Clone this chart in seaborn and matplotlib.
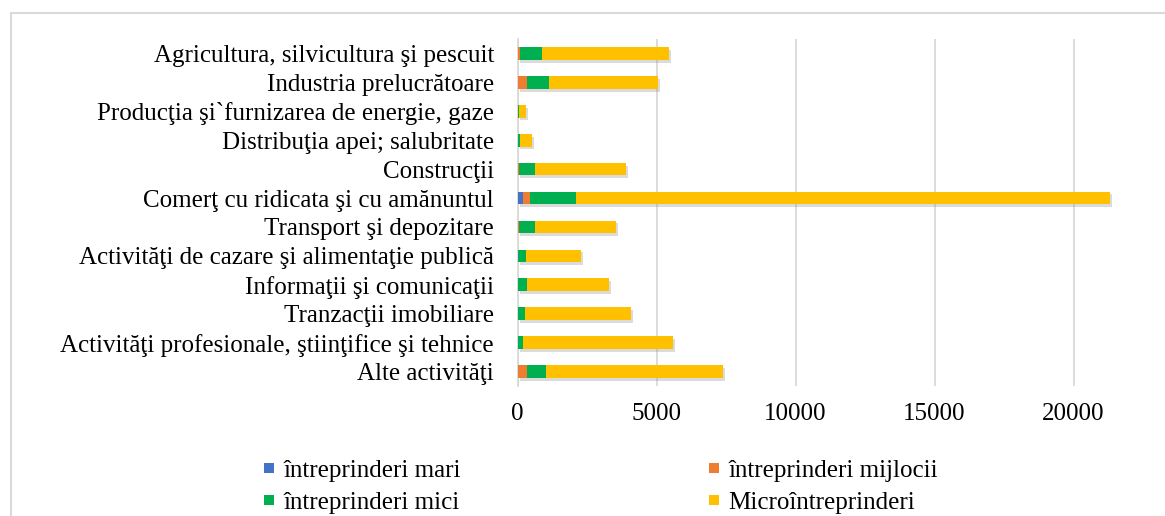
import numpy as np
import pandas as pd
import matplotlib
matplotlib.use("Agg")
import matplotlib.pyplot as plt
import matplotlib.patheffects as pe
from matplotlib.patches import Rectangle
from matplotlib.lines import Line2D
import seaborn as sns

categories = [
    "Agricultura, silvicultura şi pescuit",
    "Industria prelucrătoare",
    "Producţia şi`furnizarea de energie, gaze",
    "Distribuţia apei; salubritate",
    "Construcţii",
    "Comerţ cu ridicata şi cu amănuntul",
    "Transport şi depozitare",
    "Activităţi de cazare şi alimentaţie publică",
    "Informaţii şi comunicaţii",
    "Tranzacţii imobiliare",
    "Activităţi profesionale, ştiinţifice şi tehnice",
    "Alte activităţi",
]
series_names = ["întreprinderi mari", "întreprinderi mijlocii",
                "întreprinderi mici", "Microîntreprinderi"]
mari = [5, 30, 5, 5, 10, 200, 10, 5, 5, 0, 0, 10]
mijlocii = [70, 310, 15, 15, 60, 250, 40, 20, 25, 10, 10, 330]
mici = [805, 780, 40, 70, 550, 1650, 570, 280, 310, 260, 190, 685]
micro = [4580, 3945, 245, 420, 3280, 19200, 2935, 1990, 2960, 3810, 5405, 6355]
colors = ["#4472C4", "#ED7D31", "#00B050", "#FFC000"]

plt.rcParams['font.family'] = ['Liberation Serif', 'DejaVu Serif']
FS = 18

df = pd.DataFrame({"cat": categories, "mari": mari, "mijlocii": mijlocii,
                   "mici": mici, "micro": micro})
df["c1"] = df["mari"]
df["c2"] = df["c1"] + df["mijlocii"]
df["c3"] = df["c2"] + df["mici"]
df["c4"] = df["c3"] + df["micro"]

W, H = 1165, 516
fig = plt.figure(figsize=(W / 100, H / 100), dpi=100)
ax = fig.add_axes([517.5 / W, 1 - 386 / H, (W - 517.5) / W, (386 - 39) / H])

layers = [("c4", colors[3]), ("c3", colors[2]), ("c2", colors[1]), ("c1", colors[0])]
for i, (col, c) in enumerate(layers):
    sns.barplot(data=df, y="cat", x=col, color=c, width=0.44, ax=ax,
                saturation=1, order=categories, zorder=3 + i)
    if i == 0:
        for p in ax.patches:
            p.set_path_effects([pe.SimplePatchShadow(offset=(1.5, -2), shadow_rgbFace="#8a8a8a", alpha=0.3),
                                pe.Normal()])

ax.set_xlim(0, (W - 517.5) * 5000 / 139)
ax.set_xticks([0, 5000, 10000, 15000, 20000])
ax.set_xlabel("")
ax.set_ylabel("")
ax.grid(axis="x", color="#d9d9d9", linewidth=1.3, zorder=0)
ax.grid(axis="y", visible=False)
ax.set_axisbelow(True)
for s in ["top", "right", "bottom"]:
    ax.spines[s].set_visible(False)
ax.spines["left"].set_color("#d9d9d9")
ax.spines["left"].set_linewidth(1.3)
ax.tick_params(axis="both", length=0, labelsize=FS)
ax.tick_params(axis="y", pad=17)
ax.tick_params(axis="x", pad=12)
ax.set_facecolor("none")

def sq(c):
    return Line2D([], [], marker="s", linestyle="", markersize=7.3,
                  markerfacecolor=c, markeredgecolor=c, markeredgewidth=0)

handles = [sq(colors[0]), sq(colors[2]), sq(colors[1]), sq(colors[3])]
labels = [series_names[0], series_names[2], series_names[1], series_names[3]]
fig.legend(handles, labels, ncol=2, frameon=False, fontsize=FS,
           loc="upper left", bbox_to_anchor=(241 / W, 1 - 437 / H),
           handlelength=0.45, handletextpad=0.35,
           columnspacing=9.9, labelspacing=0.36)

fig.patches.append(Rectangle((11 / W, -0.1), 1.2, 1 - 13 / H + 0.1, transform=fig.transFigure,
                             fill=False, edgecolor="#d9d9d9", linewidth=1.5))

fig.savefig("out.png", dpi=100)
